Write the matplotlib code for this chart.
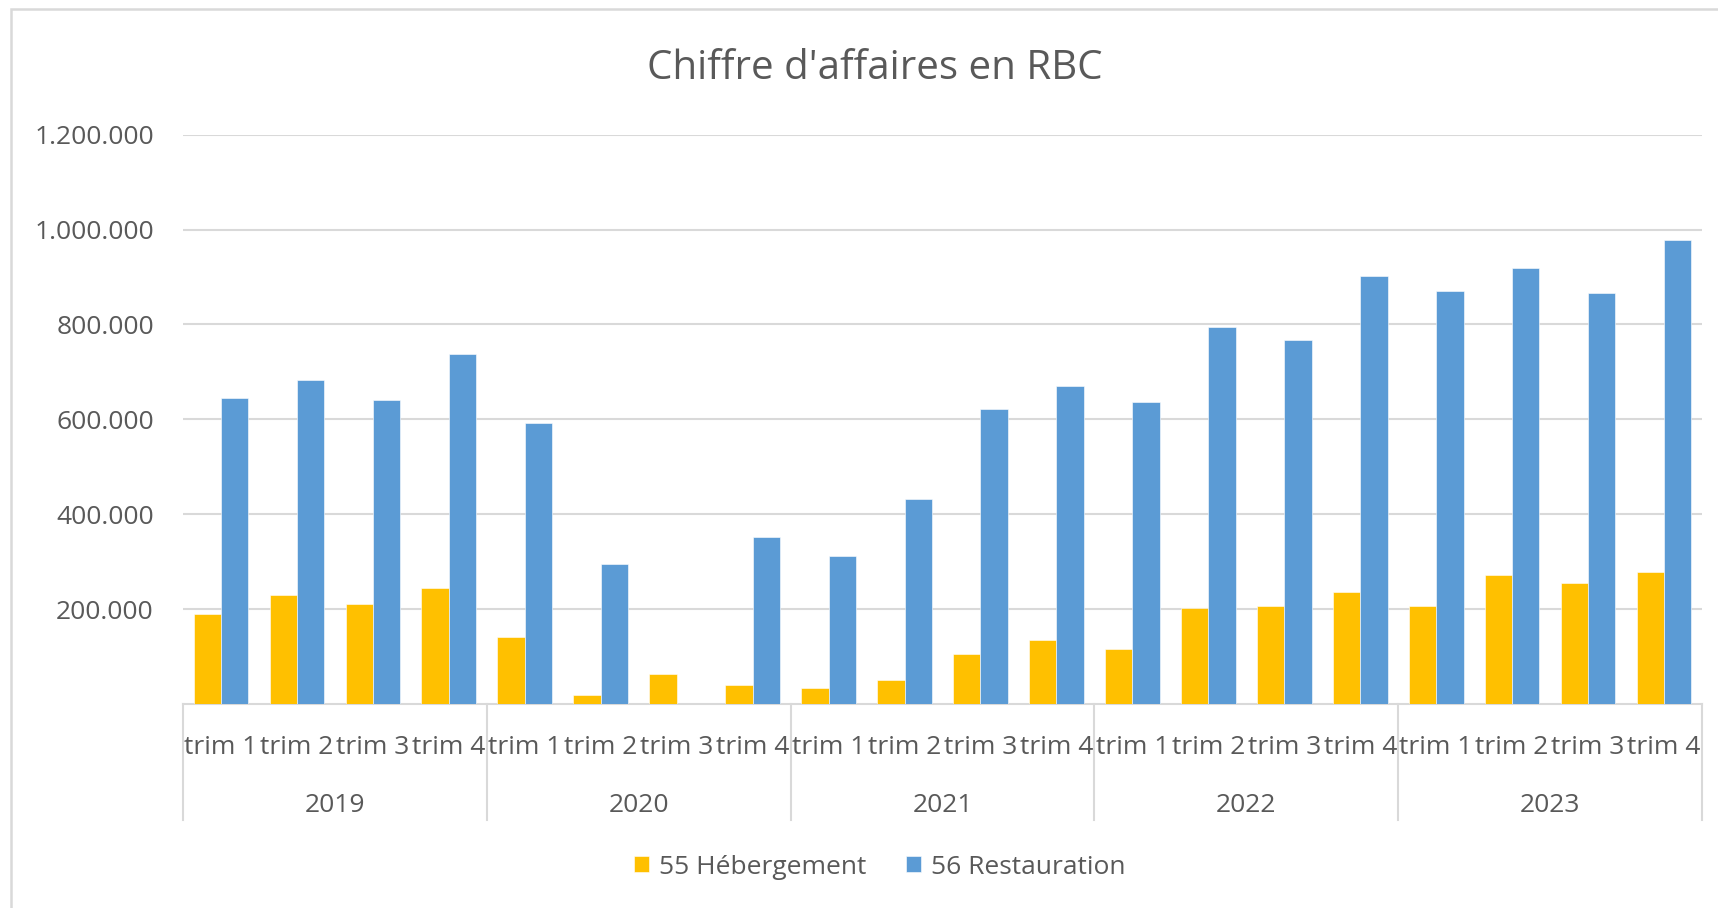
import matplotlib
matplotlib.use('Agg')
import matplotlib.pyplot as plt
import numpy as np
from matplotlib.ticker import FuncFormatter
from matplotlib.patches import Rectangle

years = ['2019', '2020', '2021', '2022', '2023']
quarters = ['trim 1', 'trim 2', 'trim 3', 'trim 4']
hebergement = [190000, 230000, 211000, 244000,
               142000, 20000, 64000, 41000,
               34000, 51000, 105000, 135000,
               115000, 203000, 206000, 237000,
               206000, 271000, 254000, 278000]
restauration = [645000, 682000, 641000, 737000,
                592000, 295000, 0, 352000,
                311000, 433000, 622000, 670000,
                636000, 795000, 767000, 903000,
                870000, 920000, 866000, 977000]
series_names = ['55 Hébergement', '56 Restauration']

plt.rcParams['font.family'] = ['Open Sans', 'DejaVu Sans']
TXT = '#595959'
GRID = '#d9d9d9'

W, H = 1718, 908
fig = plt.figure(figsize=(W / 100, H / 100), dpi=100)
ax = fig.add_axes([183 / W, 1 - 704 / H, (1702 - 183) / W, (704 - 134.7) / H])

n = len(hebergement)
x = np.arange(n)
w = 0.36
ax.bar(x - w / 2, hebergement, w, color='#FFC000', edgecolor='white', linewidth=0.4,
       label=series_names[0], zorder=3)
ax.bar(x + w / 2, restauration, w, color='#5B9BD5', edgecolor='white', linewidth=0.4,
       label=series_names[1], zorder=3)

ax.set_xlim(-0.5, n - 0.5)
ax.set_ylim(0, 1200000)
ax.set_yticks(np.arange(200000, 1200001, 200000))
ax.yaxis.set_major_formatter(FuncFormatter(lambda v, p: f"{int(v):,}".replace(',', '.')))
ax.yaxis.grid(True, color=GRID, linewidth=1.5, zorder=0)
ax.set_axisbelow(True)
for s in ['top', 'right', 'left']:
    ax.spines[s].set_visible(False)
ax.spines['bottom'].set_color(GRID)
ax.spines['bottom'].set_linewidth(1.5)
ax.set_xticks([])
ax.tick_params(axis='y', length=0, pad=21, labelsize=19, labelcolor=TXT)

trans = ax.get_xaxis_transform()
axh = 704 - 134.7
for i in range(n):
    ax.text(i, -43 / axh, quarters[i % 4], transform=trans, ha='center', va='center',
            fontsize=19, color=TXT)
for k, yr in enumerate(years):
    ax.text(4 * k + 1.5, -101 / axh, yr, transform=trans, ha='center', va='center',
            fontsize=19, color=TXT)
for b in range(len(years) + 1):
    ax.plot([4 * b - 0.5] * 2, [0, -116 / axh], transform=trans, color=GRID,
            linewidth=1.5, clip_on=False)

fig.text(875 / W, 1 - 69 / H, "Chiffre d'affaires en RBC", ha='center', va='center',
         fontsize=29, color=TXT)

handles, labels = ax.get_legend_handles_labels()
fig.legend(handles, labels, loc='center', bbox_to_anchor=(880 / W, 1 - 867 / H), ncol=2,
           frameon=False, fontsize=19, handlelength=0.55, handleheight=0.55,
           handletextpad=0.4, columnspacing=1.5, labelcolor=TXT)

fig.add_artist(Rectangle((11 / W, -0.05), 1.2, 1.05 - 9 / H, fill=False,
                         edgecolor=GRID, linewidth=1.8, transform=fig.transFigure))

fig.savefig('out.png', dpi=100)
